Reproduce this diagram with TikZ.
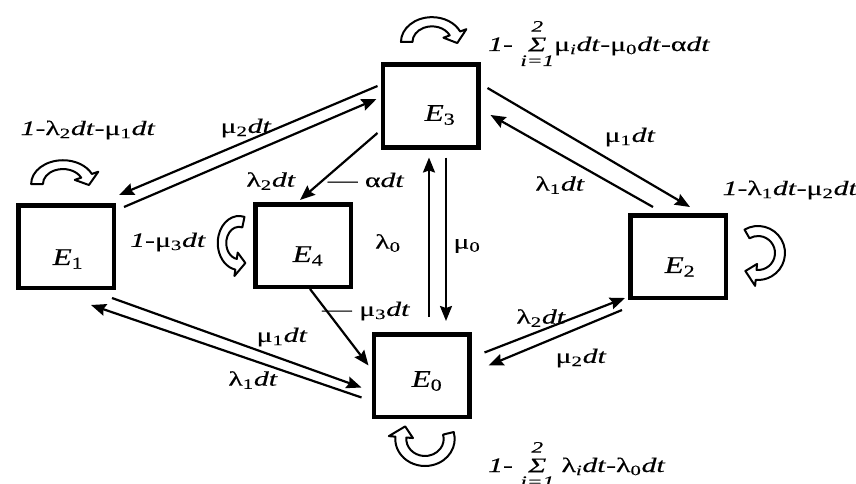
\documentclass[tikz,border=0pt]{standalone}
\usepackage{fontspec}
\setmainfont{Liberation Serif}[FakeBold=0.3]
\usepackage{graphicx}
\usetikzlibrary{arrows.meta,calc}
\newcommand\lbl[1]{\scalebox{1.45}[1]{\fontsize{20.5}{22}\selectfont #1}}
\newcommand\dtt{\textit{dt}}
\newcommand\sbs[1]{\textsubscript{#1}}
\newcommand\ebox[1]{\scalebox{1.3}[1]{\fontsize{24}{26}\selectfont\textit{E}\textsubscript{#1}}}
\newcommand\limf{\fontsize{16}{16}\selectfont\itshape}
\newcommand\sumop{\raisebox{-15pt}{\vbox{\offinterlineskip\halign{\hfil##\hfil\cr
  \limf 2\cr\noalign{\kern6pt}
  \fontsize{21}{21}\selectfont\itshape Σ\cr\noalign{\kern4pt}
  \limf i=1\cr}}}}
\newcommand\loopar[6][]{%
  \begin{scope}[shift={(#2)},#1]
  \draw[loopst] (#4:{#3+5}) arc[start angle=#4,end angle=#5,radius={#3+5}]
    -- (#5:{#3+11}) -- ({#5+#6}:#3) -- (#5:{#3-11}) -- (#5:{#3-5})
    arc[start angle=#5,end angle=#4,radius={#3-5}] -- cycle;
  \end{scope}}
\begin{document}
\begin{tikzpicture}[x=1pt,y=-1pt,
  box/.style={draw,line width=4.5pt,minimum width=95.5pt,minimum height=82.5pt,inner sep=0pt},
  arr/.style={line width=2.2pt,-{Stealth[length=15pt,width=12pt,inset=2pt]}},
  loopst/.style={line width=2pt,fill=white,line join=round},
  lab/.style={inner sep=0pt},
  elab/.style={inner sep=0pt}]
\useasboundingbox (0,0) rectangle (856,484);
% boxes
\node[box] (E3) at (430.5,106) {};
\node[box] (E1) at (66,246.5) {};
\node[box] (E4) at (303,245.5) {};
\node[box] (E2) at (678,256.5) {};
\node[box] (E0) at (421.5,375.5) {};
\node[elab] (tE3) at (440,115) {\ebox{3}};
\node[elab] (tE1) at (68,259) {\ebox{1}};
\node[elab] (tE4) at (308,256) {\ebox{4}};
\node[elab] (tE2) at (680,267) {\ebox{2}};
\node[elab] (tE0) at (427,381) {\ebox{0}};
% connectors
\draw[arr] ([shift={(-3,-20)}]E3.west) -- ([shift={(3,-8)}]E1.north east);
\draw[arr] ([shift={(8,4)}]E1.north east) -- ([shift={(-4,-7)}]E3.west);
\draw[arr] ([shift={(-3,27)}]E3.west) -- ([shift={(-3,-2)}]E4.north);
\draw[arr] ([shift={(7.5,-15)}]E0.north) -- ([shift={(-1.5,8)}]E3.south);
\draw[arr] ([shift={(15.5,8)}]E3.south) -- ([shift={(24.5,-11)}]E0.north);
\draw[arr] ([shift={(7,-18)}]E3.east) -- ([shift={(12,-6)}]E2.north);
\draw[arr] ([shift={(-25,-6)}]E2.north) -- ([shift={(10,9)}]E3.east);
\draw[arr] ([shift={(13,-23)}]E0.east) -- ([shift={(-3,-2)}]E2.south west);
\draw[arr] ([shift={(-6,10)}]E2.south west) -- ([shift={(17,-10)}]E0.east);
\draw[arr] ([shift={(-4,8)}]E1.south east) -- ([shift={(-10,12)}]E0.west);
\draw[arr] ([shift={(-10,22)}]E0.west) -- ([shift={(-25,15)}]E1.south east);
\draw[arr] ([shift={(7,0)}]E4.south) -- ([shift={(-3,-10)}]E0.west);
% connector labels
\node[lab] (l1) at (246,128) {\lbl{μ\sbs{2}\dtt}};
\node[lab] (l2) at (271,181) {\lbl{λ\sbs{2}\dtt}};
\node[lab] (l3) at (366,180) {\lbl{— α\dtt}};
\node[lab] (l4) at (388,243) {\lbl{λ\sbs{0}}};
\node[lab] (l5) at (467,246) {\lbl{μ\sbs{0}}};
\node[lab] (l6) at (630,137) {\lbl{μ\sbs{1}\dtt}};
\node[lab] (l7) at (560,185) {\lbl{λ\sbs{1}\dtt}};
\node[lab] (l8) at (541,318) {\lbl{λ\sbs{2}\dtt}};
\node[lab] (l9) at (581,358) {\lbl{μ\sbs{2}\dtt}};
\node[lab] (l10) at (282,337) {\lbl{μ\sbs{1}\dtt}};
\node[lab] (l11) at (253,380) {\lbl{λ\sbs{1}\dtt}};
\node[lab] (l12) at (366,311) {\lbl{— μ\sbs{3}\dtt}};
% self loops
\loopar[xscale=1.15,yscale=0.92]{432,42}{22}{180}{335}{28}
\loopar[xscale=1.18,yscale=0.88]{63,184}{22}{180}{335}{28}
\loopar[xscale=0.85,yscale=1.08]{239,243}{20}{285}{100}{-32}
\loopar{758,253}{22}{240}{455}{30}
\loopar[xscale=1.1]{425,439}{22}{-15}{185}{30}
% loop labels
\node[lab,anchor=base west] (L3) at (488,51) {\lbl{\textit{1}- \sumop μ\sbs{\textit{i}}\dtt-μ\sbs{0}\dtt-α\dtt}};
\node[lab] (L1) at (88,130) {\lbl{\textit{1}-λ\sbs{2}\dtt-μ\sbs{1}\dtt}};
\node[lab] (L4) at (168,242) {\lbl{\textit{1}-μ\sbs{3}\dtt}};
\node[lab] (L2) at (790,190) {\lbl{\textit{1}-λ\sbs{1}\dtt-μ\sbs{2}\dtt}};
\node[lab,anchor=base west] (L0) at (488,472) {\lbl{\textit{1}- \sumop\ λ\sbs{\textit{i}}\dtt-λ\sbs{0}\dtt}};
\end{tikzpicture}
\end{document}
